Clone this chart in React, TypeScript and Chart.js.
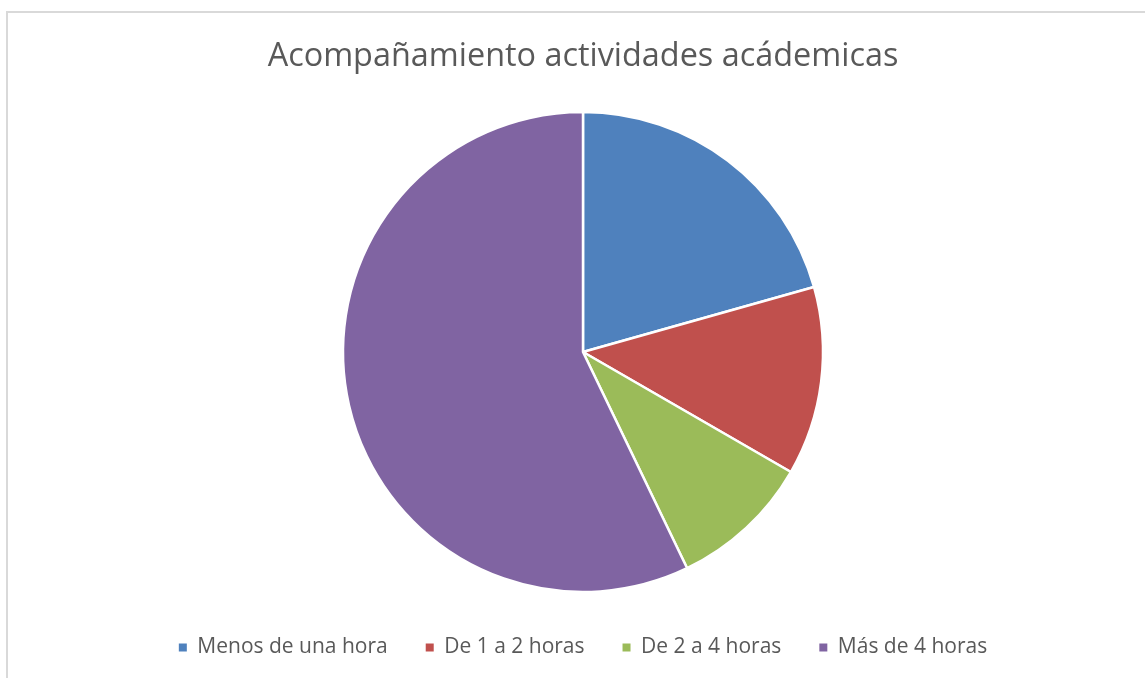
import React, { useEffect, useRef } from "react";
import { Chart, registerables } from "chart.js";

Chart.register(...registerables);

const titleText = "Acompañamiento actividades acádemicas";
const categories = ["Menos de una hora", "De 1 a 2 horas", "De 2 a 4 horas", "Más de 4 horas"];
const values = [13, 8, 6, 36];
const colors = ["#4F81BD", "#C0504D", "#9BBB59", "#8064A2"];

export default function App() {
  const ref = useRef<HTMLCanvasElement | null>(null);

  useEffect(() => {
    if (!ref.current) return;
    const chart = new Chart(ref.current, {
      type: "pie",
      data: {
        labels: categories,
        datasets: [
          {
            data: values,
            backgroundColor: colors,
            borderColor: "#ffffff",
            borderWidth: 2.5,
          },
        ],
      },
      options: {
        animation: false,
        responsive: false,
        maintainAspectRatio: false,
        radius: 240,
        layout: { padding: 0 },
        plugins: {
          title: {
            display: true,
            text: titleText,
            color: "#595959",
            font: { family: "'Open Sans', sans-serif", size: 32.4, weight: "normal", lineHeight: 1.2 },
            padding: { top: 24.55, bottom: 28.6 },
          },
          legend: {
            display: true,
            position: "bottom",
            labels: {
              color: "#595959",
              font: { family: "'Open Sans', sans-serif", size: 21 },
              boxWidth: 8,
              boxHeight: 8,
              padding: 38,
              generateLabels: (ch: any) =>
                categories.map((c, i) => ({
                  text: c,
                  fillStyle: colors[i],
                  strokeStyle: colors[i],
                  lineWidth: 0,
                  fontColor: "#595959",
                  hidden: false,
                  index: i,
                })),
            },
          },
          tooltip: { enabled: false },
        },
      },
    });
    return () => chart.destroy();
  }, []);

  return (
    <div
      style={{
        position: "fixed",
        left: 6,
        top: 11,
        width: 1150,
        height: 700,
        borderTop: "2px solid #d9d9d9",
        borderLeft: "2px solid #d9d9d9",
        background: "#ffffff",
      }}
    >
      <canvas ref={ref} width={1150} height={655} style={{ display: "block" }} />
    </div>
  );
}
